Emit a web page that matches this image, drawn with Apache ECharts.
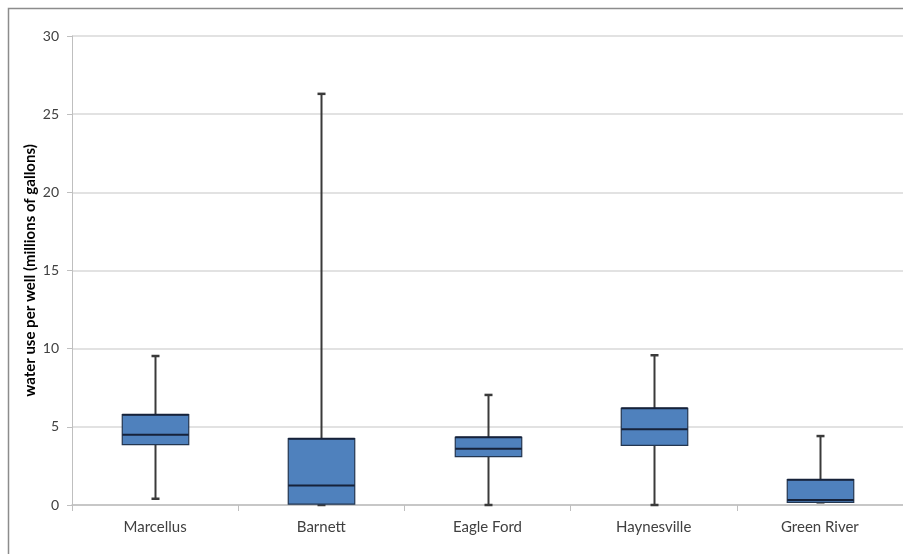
<!DOCTYPE html>
<html>
<head>
<meta charset="utf-8">
<script src="https://cdn.jsdelivr.net/npm/echarts@6/dist/echarts.min.js"></script>
<style>
  html, body { margin: 0; padding: 0; background: #fff; }
  #chart-container { width: 903px; height: 554px; }
</style>
</head>
<body>
<div id="chart-container"></div>
<script>
// Box statistics (millions of gallons)
const categories = ['Marcellus', 'Barnett', 'Eagle Ford', 'Haynesville', 'Green River'];
const mins    = [0.4, 0.0, 0.0, 0.0, 0.17];
const q1s     = [3.86, 0.05, 3.09, 3.82, 0.17];
const medians = [4.5, 1.24, 3.6, 4.84, 0.32];
const q3s     = [5.78, 4.24, 4.33, 6.19, 1.62];
const maxs    = [9.53, 26.3, 7.04, 9.58, 4.41];
const yTicks  = [0, 5, 10, 15, 20, 25, 30];

(function () {
  const chartDom = document.getElementById('chart-container');
  const myChart = echarts.init(chartDom, null, { renderer: 'canvas' });

  // one row per category: [index, min, q1, median, q3, max]
  const rows = categories.map((c, i) => [i, mins[i], q1s[i], medians[i], q3s[i], maxs[i]]);

  function renderBox(params, api) {
    const idx = api.value(0);
    const bandW = api.size([1, 0])[0];
    const halfW = bandW * 0.2;
    const capHalf = 4;
    const pMin = api.coord([idx, api.value(1)]);
    const pQ1 = api.coord([idx, api.value(2)]);
    const pMed = api.coord([idx, api.value(3)]);
    const pQ3 = api.coord([idx, api.value(4)]);
    const pMax = api.coord([idx, api.value(5)]);
    const cx = Math.round(pMin[0]) + 0.5;
    const whiskerStyle = { stroke: '#3a3a3a', lineWidth: 2 };
    return {
      type: 'group',
      children: [
        { type: 'line', shape: { x1: cx, y1: pMax[1], x2: cx, y2: pQ3[1] }, style: whiskerStyle },
        { type: 'line', shape: { x1: cx, y1: pQ1[1], x2: cx, y2: pMin[1] }, style: whiskerStyle },
        { type: 'line', shape: { x1: cx - capHalf, y1: pMax[1], x2: cx + capHalf, y2: pMax[1] }, style: { stroke: '#3a3a3a', lineWidth: 2.5 } },
        { type: 'line', shape: { x1: cx - capHalf, y1: pMin[1], x2: cx + capHalf, y2: pMin[1] }, style: { stroke: '#3a3a3a', lineWidth: 2.5 } },
        {
          type: 'rect',
          shape: { x: cx - halfW, y: pQ3[1], width: halfW * 2, height: pQ1[1] - pQ3[1] },
          style: { fill: '#4f81bd', stroke: '#233650', lineWidth: 1.2 }
        },
        { type: 'line', shape: { x1: cx - halfW, y1: pQ3[1], x2: cx + halfW, y2: pQ3[1] }, style: { stroke: '#16223a', lineWidth: 2 } },
        { type: 'line', shape: { x1: cx - halfW, y1: pMed[1], x2: cx + halfW, y2: pMed[1] }, style: { stroke: '#16223a', lineWidth: 2 } }
      ]
    };
  }

  const option = {
    animation: false,
    backgroundColor: '#fff',
    textStyle: { fontFamily: 'Lato' },
    graphic: [{
      type: 'rect',
      shape: { x: 8.5, y: 8.5, width: 1000, height: 1000 },
      style: { fill: 'none', stroke: '#8c8c8c', lineWidth: 1.5 },
      silent: true
    }],
    grid: { left: 72, right: -4, top: 36, bottom: 49, containLabel: false },
    xAxis: {
      type: 'category',
      data: categories,
      boundaryGap: true,
      axisLine: { lineStyle: { color: '#bfbfbf', width: 1.5 } },
      axisTick: { show: true, length: 6, lineStyle: { color: '#bfbfbf' } },
      axisLabel: { color: '#404040', fontSize: 15, margin: 15, fontFamily: 'Lato' },
      splitLine: { show: false }
    },
    yAxis: {
      type: 'value',
      min: yTicks[0],
      max: yTicks[yTicks.length - 1],
      interval: 5,
      name: 'water use per well (millions of gallons)',
      nameLocation: 'middle',
      nameRotate: 90,
      nameGap: 34,
      nameMoveOverlap: false,
      nameTextStyle: { color: '#000', fontSize: 15, fontWeight: 'bold', fontFamily: 'Lato' },
      axisLine: { show: true, lineStyle: { color: '#bfbfbf', width: 1 } },
      axisTick: { show: true, length: 5, lineStyle: { color: '#bfbfbf' } },
      axisLabel: { color: '#404040', fontSize: 14, margin: 13, fontFamily: 'Lato' },
      splitLine: { lineStyle: { color: '#d9d9d9', width: 1.5 } }
    },
    series: [{
      type: 'custom',
      renderItem: renderBox,
      encode: { x: 0, y: [1, 2, 3, 4, 5] },
      data: rows,
      z: 3
    }]
  };

  myChart.setOption(option);
}());
</script>
</body>
</html>
